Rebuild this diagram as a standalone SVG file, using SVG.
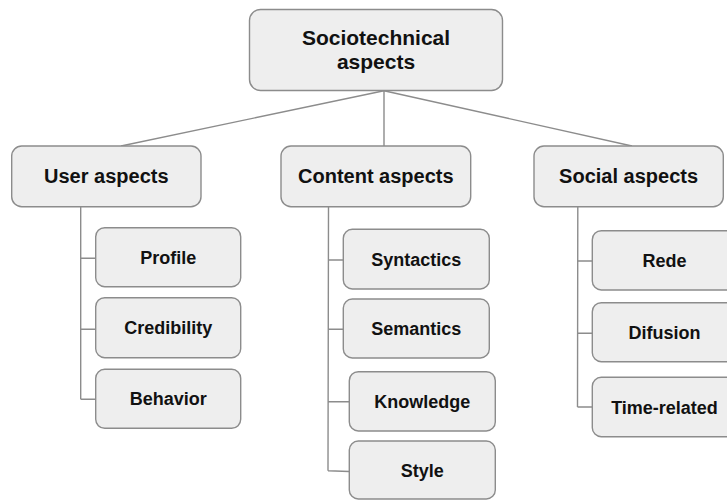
<svg xmlns="http://www.w3.org/2000/svg" width="727" height="500" viewBox="0 0 727 500">
<style>
.box{fill:#eeeeee;stroke:#8c8c8c;stroke-width:1.4}
.ln{fill:none;stroke:#8c8c8c;stroke-width:1.4}
text{font-family:"Liberation Sans",Arial,sans-serif;font-weight:bold;fill:#111;text-anchor:middle}
.t1{font-size:21px}
.t2{font-size:20px}
.t3{font-size:18px}
</style>
<rect width="727" height="500" fill="#ffffff"/>
<g id="connectors">
<path class="ln" d="M384,90.7 L121,146 M384,90.7 L384,146 M384,90.7 L632,146"/>
<path class="ln" d="M80.7,206.7 L80.7,399.3 M80.7,258.3 L95.7,258.3 M80.7,329.3 L95.7,329.3 M80.7,399.3 L95.7,399.3"/>
<path class="ln" d="M328.5,206.7 L328,470.7 M328.5,260 L343.3,260 M328.3,329.3 L343.3,329.3 M328.2,401.7 L349.3,401.7 M328,470.7 L349.3,471.5"/>
<path class="ln" d="M577.8,206.7 L577.5,407 M577.8,261 L592.3,261 M577.6,333.3 L592.3,333.3 M577.5,407 L592.3,407"/>
</g>
<g id="root">
<rect class="box" x="249.5" y="9.5" width="253" height="81" rx="11"/>
<text class="t1" x="376" y="45">Sociotechnical</text>
<text class="t1" x="376" y="69">aspects</text>
</g>
<g id="user">
<rect class="box" x="11.7" y="146" width="189.3" height="60.7" rx="10"/>
<text class="t2" x="106.3" y="183.3">User aspects</text>
</g>
<g id="content">
<rect class="box" x="281" y="146" width="189.7" height="60.7" rx="10"/>
<text class="t2" x="375.8" y="183.3">Content aspects</text>
</g>
<g id="social">
<rect class="box" x="534" y="146" width="189.3" height="60.7" rx="10"/>
<text class="t2" x="628.6" y="183.3">Social aspects</text>
</g>
<g id="profile">
<rect class="box" x="95.7" y="227.7" width="145" height="59" rx="9"/>
<text class="t3" x="168.2" y="263.7">Profile</text>
</g>
<g id="credibility">
<rect class="box" x="95.7" y="297.7" width="145" height="60" rx="9"/>
<text class="t3" x="168.2" y="334.2">Credibility</text>
</g>
<g id="behavior">
<rect class="box" x="95.7" y="369.3" width="145" height="59" rx="9"/>
<text class="t3" x="168.2" y="405.3">Behavior</text>
</g>
<g id="syntactics">
<rect class="box" x="343.3" y="229.3" width="146" height="59.7" rx="9"/>
<text class="t3" x="416.3" y="265.6">Syntactics</text>
</g>
<g id="semantics">
<rect class="box" x="343.3" y="299" width="146" height="59" rx="9"/>
<text class="t3" x="416.3" y="335">Semantics</text>
</g>
<g id="knowledge">
<rect class="box" x="349.3" y="371.7" width="146" height="59.3" rx="9"/>
<text class="t3" x="422.3" y="407.8">Knowledge</text>
</g>
<g id="style">
<rect class="box" x="349.3" y="441" width="146" height="58" rx="9"/>
<text class="t3" x="422.3" y="476.5">Style</text>
</g>
<g id="rede">
<rect class="box" x="592.3" y="230.7" width="145" height="59.3" rx="9"/>
<text class="t3" x="664.5" y="266.8">Rede</text>
</g>
<g id="difusion">
<rect class="box" x="592.3" y="302.7" width="145" height="59" rx="9"/>
<text class="t3" x="664.5" y="338.7">Difusion</text>
</g>
<g id="timerelated">
<rect class="box" x="592.3" y="377.3" width="145" height="59.4" rx="9"/>
<text class="t3" x="664.5" y="413.5">Time-related</text>
</g>
</svg>
